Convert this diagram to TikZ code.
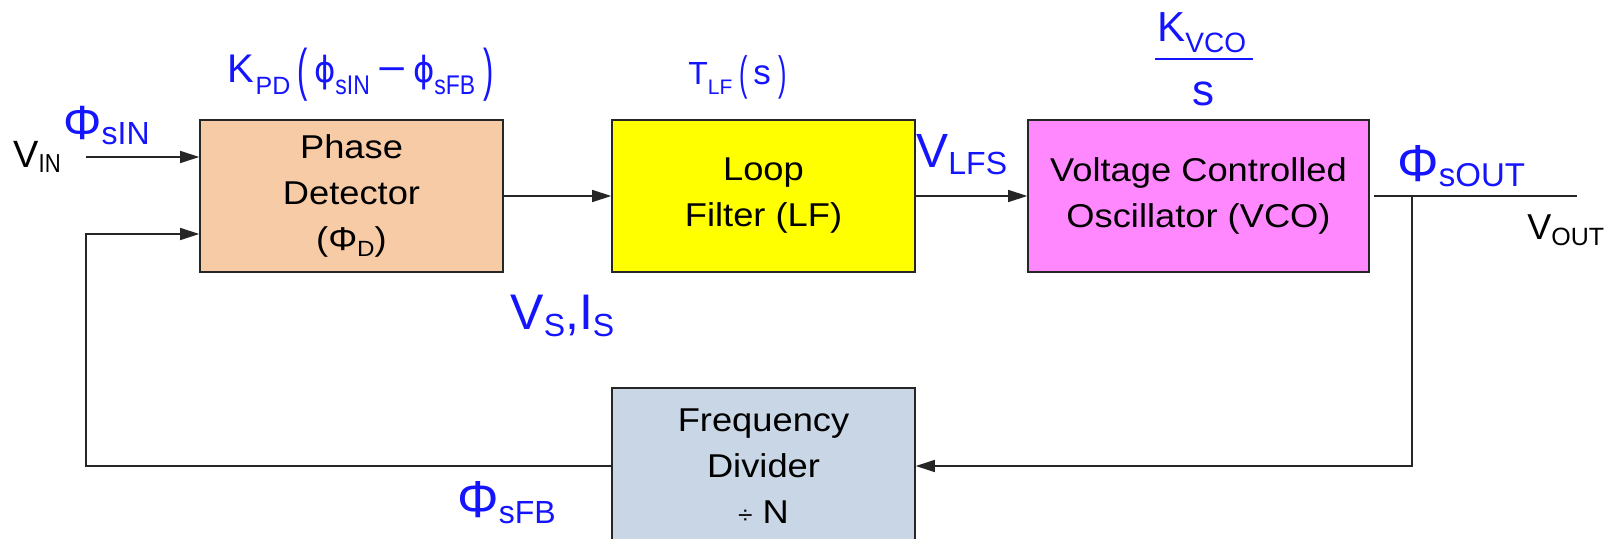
\documentclass[tikz,border=0pt]{standalone}
\usepackage{fontspec}
\setmainfont{Liberation Sans}[FakeStretch=1.1]
\newfontfamily\lfn{Liberation Sans}
\newfontfamily\cfn{Liberation Sans}[FakeStretch=0.85]
\newfontfamily\phifont{DejaVu Sans}
\usetikzlibrary{arrows.meta}
\definecolor{pdfill}{RGB}{248,203,167}
\definecolor{lffill}{RGB}{255,255,0}
\definecolor{vcofill}{RGB}{255,136,255}
\definecolor{fdfill}{RGB}{201,214,229}
\definecolor{lblue}{RGB}{20,20,255}
\newcommand{\fsz}[1]{\fontsize{#1}{#1}\selectfont}
\newcommand{\thinpar}[2]{\scalebox{0.7}[1.3]{\lfn\fsz{#1}#2}}
\begin{document}
\begin{tikzpicture}[x=0.5pt,y=-0.5pt,
 blk/.style={draw=black!85, line width=0.8pt, inner sep=0pt, align=center, font=\fontsize{16.5}{23}\selectfont},
 wire/.style={line width=0.8pt, draw=black!85},
 arr/.style={wire, -{Triangle[length=9.5pt,width=6pt]}},
 lab/.style={anchor=base west, inner sep=0pt, text=lblue, font=\lfn},
 blab/.style={anchor=base west, inner sep=0pt, text=black, font=\lfn}]
\useasboundingbox (0,0) rectangle (1616,539);
% blocks
\node[blk, fill=pdfill, minimum width=151.5pt, minimum height=76pt] (pd) at (351.5,196) {Phase\\Detector\\(Φ\raisebox{-3pt}{\fsz{11}D})};
\node[blk, fill=lffill, minimum width=151.5pt, minimum height=76pt] (lf) at (763.5,196) {Loop\\Filter (LF)};
\node[blk, fill=vcofill, minimum width=170.5pt, minimum height=76pt] (vco) at (1198.5,196) {Voltage Controlled\\Oscillator (VCO)};
\node[blk, fill=fdfill, minimum width=151.5pt, minimum height=78pt] (fd) at (763.5,466) {Frequency\\Divider\\{\fsz{12}÷} N};
% coordinates
\coordinate (vin) at (86,157);
\coordinate (fbc) at (86,234);
\coordinate (out) at (1577,196);
\coordinate (tap) at (1412,196);
% connectors
\draw[arr] (vin) -- (vin -| pd.west);
\draw[arr] (pd.east) -- (lf.west);
\draw[arr] (lf.east) -- (vco.west);
\draw[wire, shorten <=2pt] (vco.east) -- (out);
\draw[arr] (tap) |- (fd.east);
\draw[arr] (fd.west) -| (fbc) -- (fbc -| pd.west);
% labels
\node[blab] (vinl) at (13,168) {{\fsz{19}V}\raisebox{-2.5pt}{\cfn\fsz{13}IN}};
\node[lab] (phin) at (63,140) {{\fsz{24}Φ}\raisebox{-2.5pt}{\fsz{16}sIN}};
\node[lab] (kpd) at (227,83) {{\fsz{20}K}\kern0.8pt\raisebox{-6pt}{\fsz{12.5}PD}\kern3.7pt\raisebox{-3.5pt}{\thinpar{22}{(}}\kern3pt{\phifont\fsz{18}\scalebox{0.9}[1]{ϕ}}\raisebox{-6pt}{\cfn\fsz{13.5}sIN}\kern4pt{\fsz{20}\scalebox{1.25}[1]{−}}\kern3pt{\phifont\fsz{18}\scalebox{0.9}[1]{ϕ}}\raisebox{-6pt}{\cfn\fsz{13.5}sFB}\kern4pt\raisebox{-3.5pt}{\thinpar{22}{)}}};
\node[lab] (tlf) at (688,85) {{\fsz{16}T}\raisebox{-5pt}{\fsz{10.5}LF}\kern3.7pt\raisebox{-2.5pt}{\thinpar{18}{(}}\kern2.5pt{\fsz{17.5}s}\kern4pt\raisebox{-2.5pt}{\thinpar{18}{)}}};
\node[lab] (vlfs) at (916,168) {{\fsz{24}V}\raisebox{-3.5pt}{\fsz{16}LFS}};
\node[lab] (kv) at (1157,42) {{\fsz{21}K}\raisebox{-5.5pt}{\fsz{14}VCO}};
\coordinate (fl) at (1155,59);
\coordinate (fr) at (1253,59);
\draw[line width=1.35pt, draw=lblue] (fl) -- (fr);
\node[lab, anchor=base] (ks) at (1203.5,106) {\fsz{22}s};
\node[lab] (phout) at (1397,182) {{\fsz{26}Φ}\raisebox{-2.5pt}{\fsz{16.5}sOUT}};
\node[blab] (voutl) at (1527,240) {{\fsz{18}V}\raisebox{-3pt}{\fsz{12.5}OUT}};
\node[lab] (vsis) at (510,330) {{\fsz{25}V}\raisebox{-3.5pt}{\fsz{16}S}{\fsz{25},I}\raisebox{-3.5pt}{\fsz{16}S}};
\node[lab] (phfb) at (457,517) {{\fsz{26}Φ}\raisebox{-3pt}{\fsz{16}sFB}};
\end{tikzpicture}
\end{document}
